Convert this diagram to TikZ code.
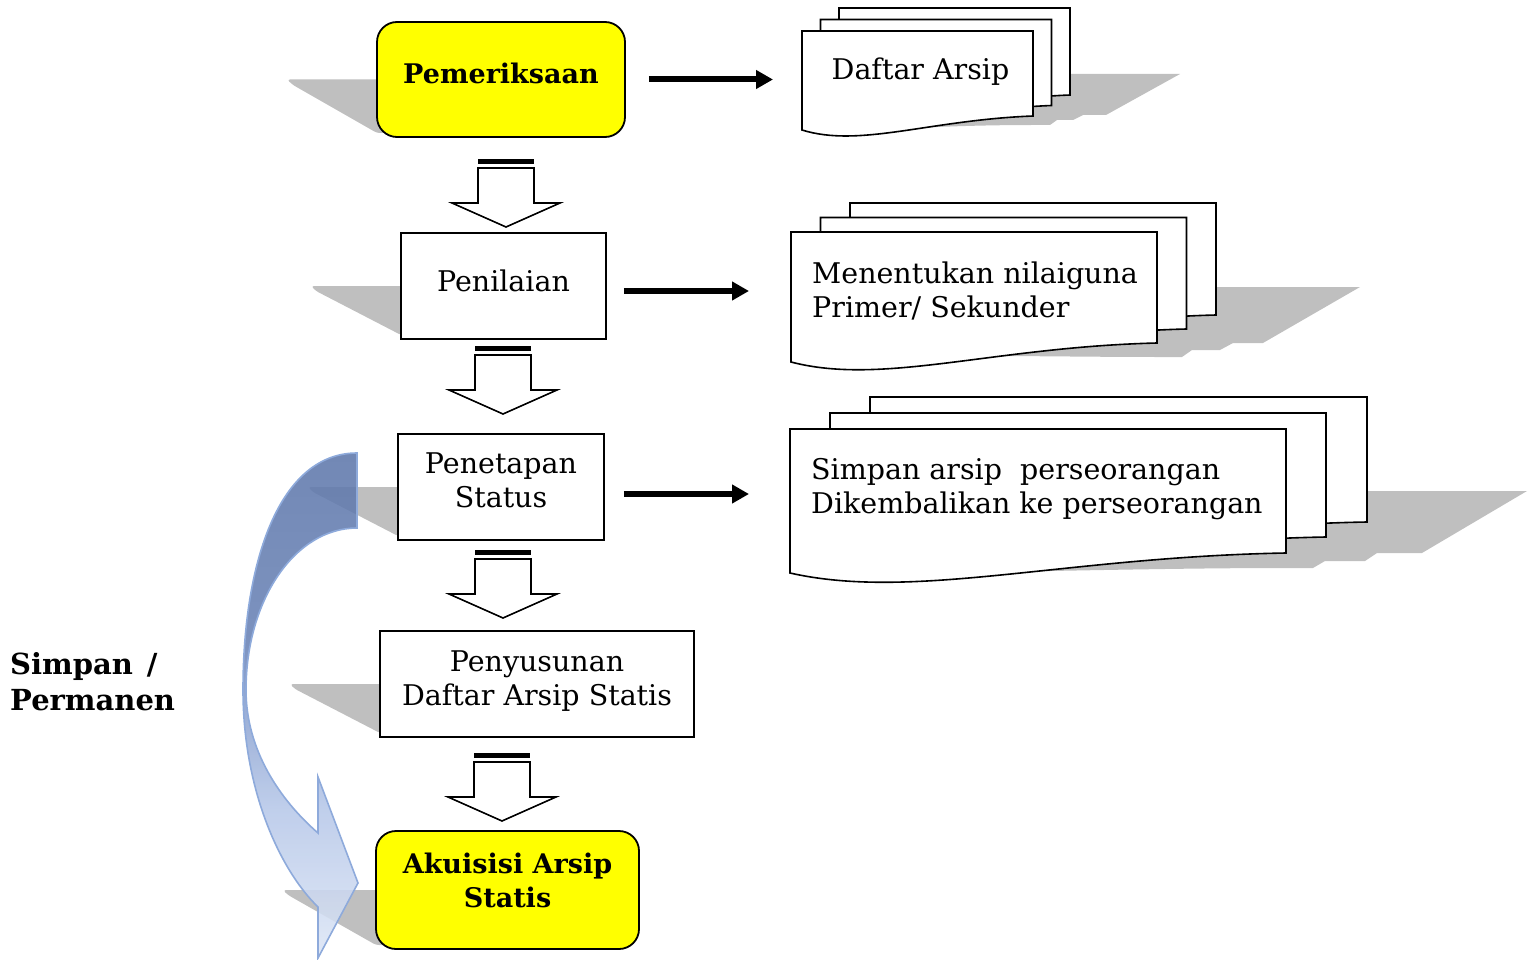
\documentclass[tikz,border=0pt]{standalone}
\usepackage{fontspec}
\setmainfont{DejaVu Serif}
\usetikzlibrary{calc,arrows.meta}
\definecolor{shadowgray}{HTML}{BFBFBF}
\definecolor{boxyellow}{HTML}{FFFF00}
\definecolor{ribtop}{HTML}{5F78AB}
\definecolor{ribupper}{HTML}{6A83B6}
\definecolor{ribmid}{HTML}{8AA1CF}
\definecolor{riblow}{HTML}{B6C7E8}
\definecolor{ribbottom}{HTML}{DDE6F6}
\definecolor{arrowedge}{HTML}{8EAADB}
\pgfdeclareverticalshading{ribbonshade}{100bp}{color(0bp)=(ribbottom); color(25bp)=(ribbottom);
  color(40bp)=(riblow); color(50bp)=(ribmid); color(56bp)=(ribupper); color(75bp)=(ribtop); color(100bp)=(ribtop)}
\newcommand\txtfont{\fontsize{28.5}{34}\selectfont}
\newcommand\boldfont{\fontsize{27}{34}\selectfont\bfseries}
\tikzset{
  procbox/.style={draw=black, line width=1.8pt, fill=white, inner sep=0pt},
  roundbox/.style={procbox, fill=boxyellow, rounded corners=20pt},
  boxtext/.style={inner sep=0pt, align=center, font=\txtfont},
  boldtext/.style={inner sep=0pt, align=center, font=\boldfont},
  doctext/.style={inner sep=0pt, align=left, font=\txtfont},
  sidelabel/.style={inner sep=0pt, align=left, font=\fontsize{29}{36}\selectfont\bfseries},
  sheet/.style={draw=black, line width=1.6pt, fill=white},
  shadowfill/.style={fill=shadowgray, draw=none},
  flowarrow/.style={line width=6pt, -{Triangle[length=17pt,width=18pt]}},
  blockline/.style={draw=black, line width=1.6pt, fill=white, line join=miter},
  curvearrow/.style={shading=ribbonshade, fill opacity=0.88, draw=arrowedge, draw opacity=1, line width=1.6pt},
  stripedarrow/.pic={
    \fill[black] (-28,0) rectangle (28,5);
    \draw[blockline] (-28,9) -- (-28,44) -- (-54,44) -- (0,68) -- (54,44) -- (28,44) -- (28,9) -- cycle;
  },
}
% document sheet: #1 left, #2 top, #3 width, #4 right-bottom depth, #5 left-bottom depth, #6 dip
\newcommand\docsheet[6]{%
  \begin{scope}[shift={(#1,#2)}]
    \draw[sheet] (0,0) -- (#3,0) -- (#3,#4)
      .. controls (0.55*#3,#4+4) and (0.25*#3,#5+#6) .. (0,#5) -- cycle;
  \end{scope}}
\begin{document}
\begin{tikzpicture}[x=1pt,y=-1pt]
\useasboundingbox (0,0) rectangle (1534,960);

% ---------- shadows of process boxes ----------
\fill[shadowfill, rounded corners=3pt] (287,79.5) -- (420,79.5) -- (420,133) -- (377,133) -- (293,85) -- cycle;
\fill[shadowfill, rounded corners=3pt] (311,286) -- (430,286) -- (430,335) -- (401,335) -- (316,291) -- cycle;
\fill[shadowfill, rounded corners=3pt] (308,487) -- (430,487) -- (430,536) -- (398,536) -- (313,492) -- cycle;
\fill[shadowfill, rounded corners=3pt] (290,684) -- (420,684) -- (420,733) -- (380,733) -- (295,689) -- cycle;
\fill[shadowfill, rounded corners=3pt] (283,890) -- (420,890) -- (420,945) -- (376,945) -- (288,895) -- cycle;

% ---------- shadows of document stacks ----------
\fill[shadowfill] (920,74) -- (1180,74) -- (1106,115) -- (1083,115) -- (1073,120) -- (1057,120) -- (1050,125) -- (1033,125)
   .. controls (995,125) and (955,126) .. (915,128) -- cycle;
\fill[shadowfill] (920,287) -- (1360,287) -- (1263,343) -- (1233,343) -- (1220,350) -- (1192,350) -- (1182,357) -- (1157,357)
   .. controls (1100,357) and (1040,356) .. (985,356) -- cycle;
\fill[shadowfill] (960,491) -- (1527,491) -- (1422,553) -- (1377,553) -- (1365,561) -- (1325,561) -- (1313,568) -- (1286,568)
   .. controls (1200,568) and (1100,570) .. (1000,572) -- cycle;

% ---------- curved arrow (Simpan / Permanen) ----------
\path[curvearrow] (357,453) .. controls (280,453) and (243,560) .. (243,690)
   .. controls (243,790) and (280,870) .. (318,907) -- (318,958) -- (358,883) -- (318,777) -- (318,833)
   .. controls (280,800) and (246,750) .. (246,690)
   .. controls (246,600) and (295,528) .. (357,528) -- cycle;

% ---------- process boxes ----------
\node[roundbox, minimum width=248pt, minimum height=115pt] (pem) at (501,79.5) {};
\node[procbox, minimum width=205pt, minimum height=106pt] (pen) at (503.5,286) {};
\node[procbox, minimum width=206pt, minimum height=106pt] (pst) at (501,487) {};
\node[procbox, minimum width=314pt, minimum height=106pt] (pny) at (537,684) {};
\node[roundbox, minimum width=263pt, minimum height=118pt] (aku) at (507.5,890) {};

\node[boldtext] (pemT) at ([yshift=5.7pt]pem.center) {Pemeriksaan};
\node[boxtext] (penT) at ([yshift=5pt]pen.center) {Penilaian};
\node[boxtext] (pstT) at ([yshift=7pt]pst.center) {Penetapan\\Status};
\node[boxtext] (pnyT) at ([yshift=2.5pt]pny.center) {Penyusunan\\Daftar Arsip Statis};
\node[boldtext] (akuT) at ([yshift=10pt]aku.center) {Akuisisi Arsip\\Statis};

% ---------- document stacks ----------
\docsheet{839}{8}{231}{87}{101}{18}
\docsheet{820.5}{19.5}{231}{86}{100}{18}
\docsheet{802}{31}{231}{85}{99}{18}
\docsheet{850}{203}{366}{112}{131}{24}
\docsheet{820.5}{217.5}{366}{111.5}{130.5}{24}
\docsheet{791}{232}{366}{111}{130}{24}
\docsheet{870}{397}{497}{125}{145}{28}
\docsheet{830}{413}{496}{124}{144}{28}
\docsheet{790}{429}{496}{124}{144}{28}

\coordinate (d1in) at (773,79.5);
\coordinate (d2in) at (749,291);
\coordinate (d3in) at (749,494);
\node[doctext, anchor=base] (d1T) at (920.5,80) {Daftar Arsip};
\node[doctext, anchor=north west] (d2T) at (812,262) {Menentukan nilaiguna\\Primer/ Sekunder};
\node[doctext, anchor=north west] (d3T) at (811,458) {Simpan arsip\ \ perseorangan\\Dikembalikan ke perseorangan};

% ---------- connectors ----------
\draw[flowarrow] ([xshift=23pt]pem.east) -- (d1in);
\draw[flowarrow] ($(pen.east |- d2in)+(17,0)$) -- (d2in);
\draw[flowarrow] ($(pst.east |- d3in)+(19,0)$) -- (d3in);

\coordinate (b1) at (506,159);
\coordinate (b2) at (503,346);
\coordinate (b3) at (503,550);
\coordinate (b4) at (502,753);
\pic at (b1) {stripedarrow};
\pic at (b2) {stripedarrow};
\pic at (b3) {stripedarrow};
\pic at (b4) {stripedarrow};

% ---------- side label ----------
\node[sidelabel, anchor=north west] (simpan) at (10,652) {Simpan\hspace{14pt}/\\Permanen};
\end{tikzpicture}
\end{document}
